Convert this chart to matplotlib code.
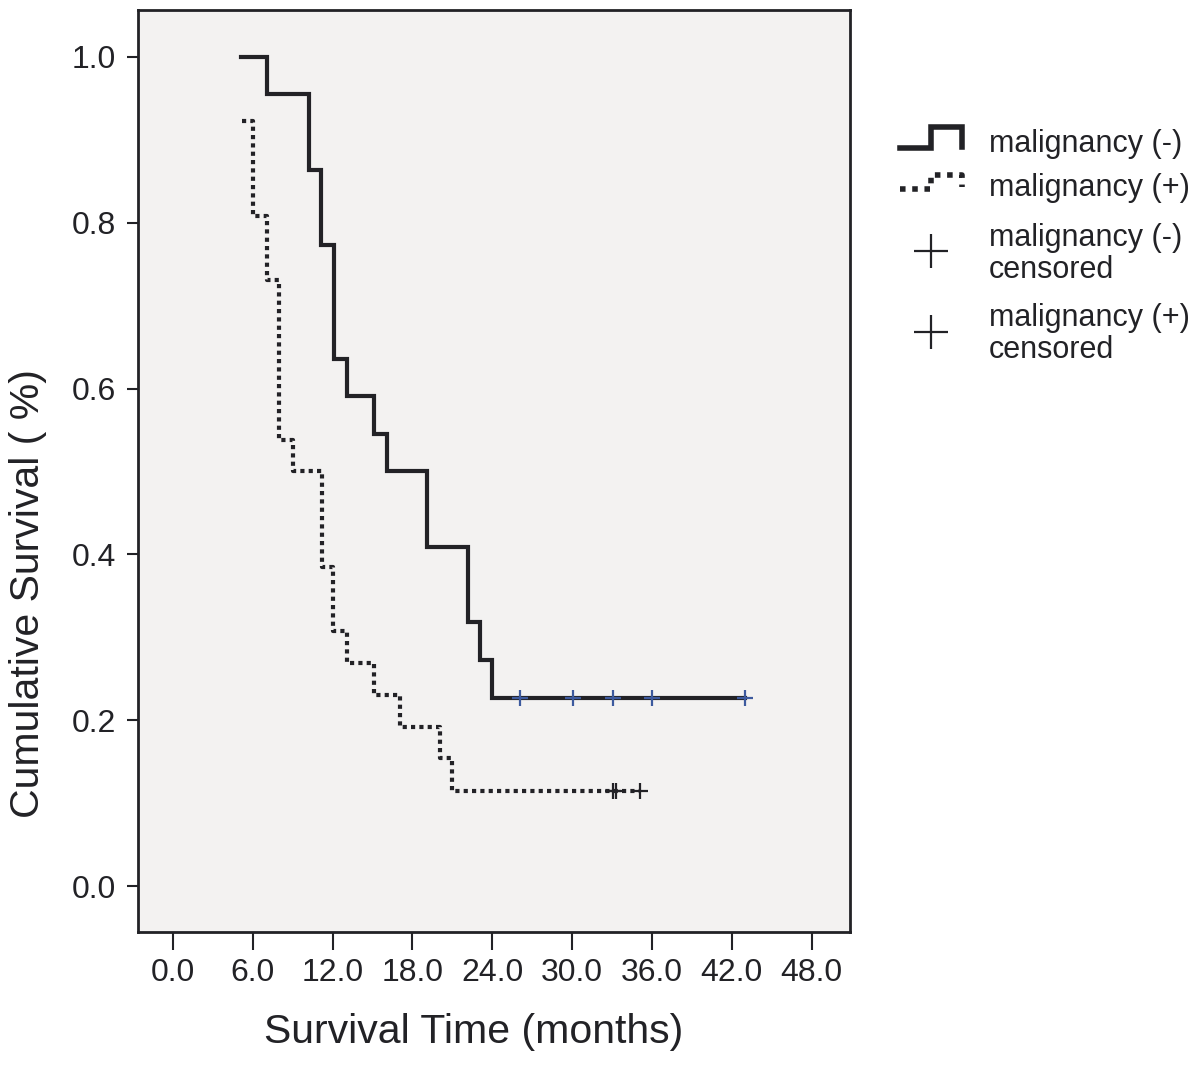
import matplotlib
matplotlib.use("Agg")
import matplotlib.pyplot as plt

plt.rcParams['font.family'] = ['Liberation Sans', 'DejaVu Sans']

# malignancy (-) group: step times (months) and cumulative survival
neg_times = [5.1, 7.1, 10.2, 11.1, 12.1, 13.1, 15.1, 16.1, 19.1, 22.2, 23.1, 24.0, 43.0]
neg_surv = [1.0, 0.955, 0.864, 0.773, 0.636, 0.591, 0.545, 0.5, 0.409, 0.318, 0.273, 0.227, 0.227]
neg_cens_t = [26.1, 30.1, 33.1, 36.0, 43.0]
neg_cens_s = [0.227, 0.227, 0.227, 0.227, 0.227]

# malignancy (+) group
pos_times = [5.2, 6.0, 7.1, 8.0, 9.0, 11.2, 12.0, 13.1, 15.1, 17.1, 20.1, 21.0, 35.1]
pos_surv = [0.923, 0.808, 0.731, 0.538, 0.5, 0.385, 0.308, 0.269, 0.231, 0.192, 0.154, 0.115, 0.115]
pos_cens_t = [33.1, 33.3, 35.1]
pos_cens_s = [0.115, 0.115, 0.115]

x_ticks = [0, 6, 12, 18, 24, 30, 36, 42, 48]
y_ticks = [0.0, 0.2, 0.4, 0.6, 0.8, 1.0]

dark = '#222226'
blue = '#3d5a9e'

fig = plt.figure(figsize=(12, 10.66), dpi=100)
ax = fig.add_axes([0.115, 0.126, 0.593, 0.865])
ax.set_facecolor('#f3f2f1')

ax.step(neg_times, neg_surv, where='post', color=dark, lw=3, solid_joinstyle='miter')
ax.step(pos_times, pos_surv, where='post', color=dark, lw=3,
        linestyle=(0, (1, 1)), dash_capstyle='butt')
ax.plot(neg_cens_t, neg_cens_s, '+', color=blue, ms=11, mew=1.6, zorder=5)
ax.plot(pos_cens_t, pos_cens_s, '+', color=dark, ms=11, mew=1.6, zorder=5)

ax.set_xlim(-2.63, 50.86)
ax.set_ylim(-0.055, 1.057)
ax.set_xticks(x_ticks)
ax.set_xticklabels(['%.1f' % t for t in x_ticks])
ax.set_yticks(y_ticks)
ax.set_yticklabels(['%.1f' % t for t in y_ticks])
ax.tick_params(axis='x', direction='out', length=13, width=1.5, pad=6,
               labelsize=23, colors=dark)
ax.tick_params(axis='y', direction='out', length=8, width=1.5, pad=8,
               labelsize=23, colors=dark)
for sp in ax.spines.values():
    sp.set_linewidth(2)
    sp.set_color(dark)

ax.set_xlabel('Survival Time (months)', fontsize=29.5, color=dark)
ax.xaxis.set_label_coords(0.472, -0.088)
ax.set_ylabel('Cumulative Survival ( %)', fontsize=29.5, color=dark)
ax.yaxis.set_label_coords(-0.128, 0.367)

# legend drawn by hand in pixel coordinates
lax = fig.add_axes([880 / 1200, 1 - 380 / 1066, 320 / 1200, 280 / 1066])
lax.set_xlim(880, 1200)
lax.set_ylim(380, 100)
lax.axis('off')
lax.plot([900, 931, 931, 962, 962], [148, 148, 127, 127, 147], color=dark, lw=4,
         solid_joinstyle='miter')
lax.plot([900, 931, 931, 962, 962], [189, 189, 175, 175, 187], color=dark, lw=4,
         linestyle=(0, (1, 1.2)), dash_capstyle='butt')
lax.plot([931], [251], '+', color=dark, ms=24, mew=1.6)
lax.plot([931], [332], '+', color=dark, ms=24, mew=1.6)
tkw = dict(fontsize=22, color=dark, va='center', ha='left')
lax.text(989, 144, 'malignancy (-)', **tkw)
lax.text(989, 188, 'malignancy (+)', **tkw)
lax.text(989, 254, 'malignancy (-)\ncensored', linespacing=1.05, **tkw)
lax.text(989, 334, 'malignancy (+)\ncensored', linespacing=1.05, **tkw)

fig.savefig('out.png', dpi=100)
